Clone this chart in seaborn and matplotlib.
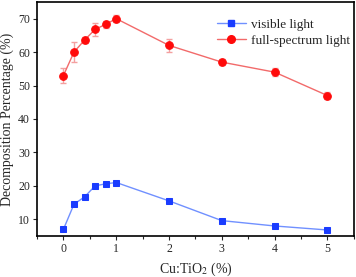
import numpy as np
import pandas as pd
import seaborn as sns
import matplotlib.pyplot as plt
from matplotlib.ticker import MultipleLocator
from matplotlib.lines import Line2D

ratio = [0, 0.2, 0.4, 0.6, 0.8, 1, 2, 3, 4, 5]
visible = [7.0, 14.5, 16.7, 20.0, 20.6, 21.0, 15.5, 9.6, 8.0, 6.8]
full = [53.0, 60.0, 63.6, 66.8, 68.3, 70.0, 62.0, 57.0, 54.0, 47.0]
full_err = [2.3, 3.0, 1.0, 2.0, 1.0, 1.0, 2.0, 1.0, 1.2, 1.0]

sns.set_style('ticks')
plt.rcParams['font.family'] = ['Liberation Serif', 'DejaVu Serif']
plt.rcParams['mathtext.fontset'] = 'stix'

fig = plt.figure(figsize=(3.56, 2.77), dpi=100)
ax = fig.add_axes([0.104, 0.148, 0.890, 0.845])

df = pd.DataFrame({'ratio': ratio, 'visible': visible, 'full': full})

# visible light
sns.lineplot(data=df, x='ratio', y='visible', ax=ax, color='#7090ff', lw=1,
             marker='s', markersize=5, markerfacecolor='#1a3cff',
             markeredgecolor='#1a3cff', legend=False)
# full spectrum
ax.errorbar(ratio, full, yerr=full_err, fmt='none', ecolor='#f4a0a0',
            elinewidth=1, capsize=2.5, capthick=1)
sns.lineplot(data=df, x='ratio', y='full', ax=ax, color='#f26a6a', lw=1,
             marker='o', markersize=5.5, markerfacecolor='#ff0a0a',
             markeredgecolor='#ff0a0a', legend=False)

ax.set_xlim(-0.5, 5.5)
ax.set_ylim(5, 75)
ax.xaxis.set_major_locator(MultipleLocator(1))
ax.xaxis.set_minor_locator(MultipleLocator(0.5))
ax.tick_params(axis='both', which='major', length=3, width=0.8, labelsize=8.5, pad=2)
ax.tick_params(axis='x', which='minor', length=2, width=0.8)
ax.set_yticks([10, 20, 30, 40, 50, 60, 70])
for s in ax.spines.values():
    s.set_linewidth(1.2)
    s.set_color('black')

ax.set_xlabel('Cu:TiO$_2$ (%)', fontsize=10, labelpad=4)
ax.set_ylabel('Decomposition Percentage (%)', fontsize=10, labelpad=3)

handles = [
    Line2D([], [], color='#7090ff', lw=1, marker='s', markersize=5,
           markerfacecolor='#1a3cff', markeredgecolor='#1a3cff'),
    Line2D([], [], color='#f26a6a', lw=1, marker='o', markersize=5.5,
           markerfacecolor='#ff0a0a', markeredgecolor='#ff0a0a'),
]
ax.legend(handles, ['visible light', 'full-spectrum light'], loc='upper right',
          bbox_to_anchor=(1.025, 0.98), frameon=False, fontsize=9.5,
          handlelength=2.2, handletextpad=0.4, labelspacing=0.3)

fig.savefig('out.png', dpi=100)
